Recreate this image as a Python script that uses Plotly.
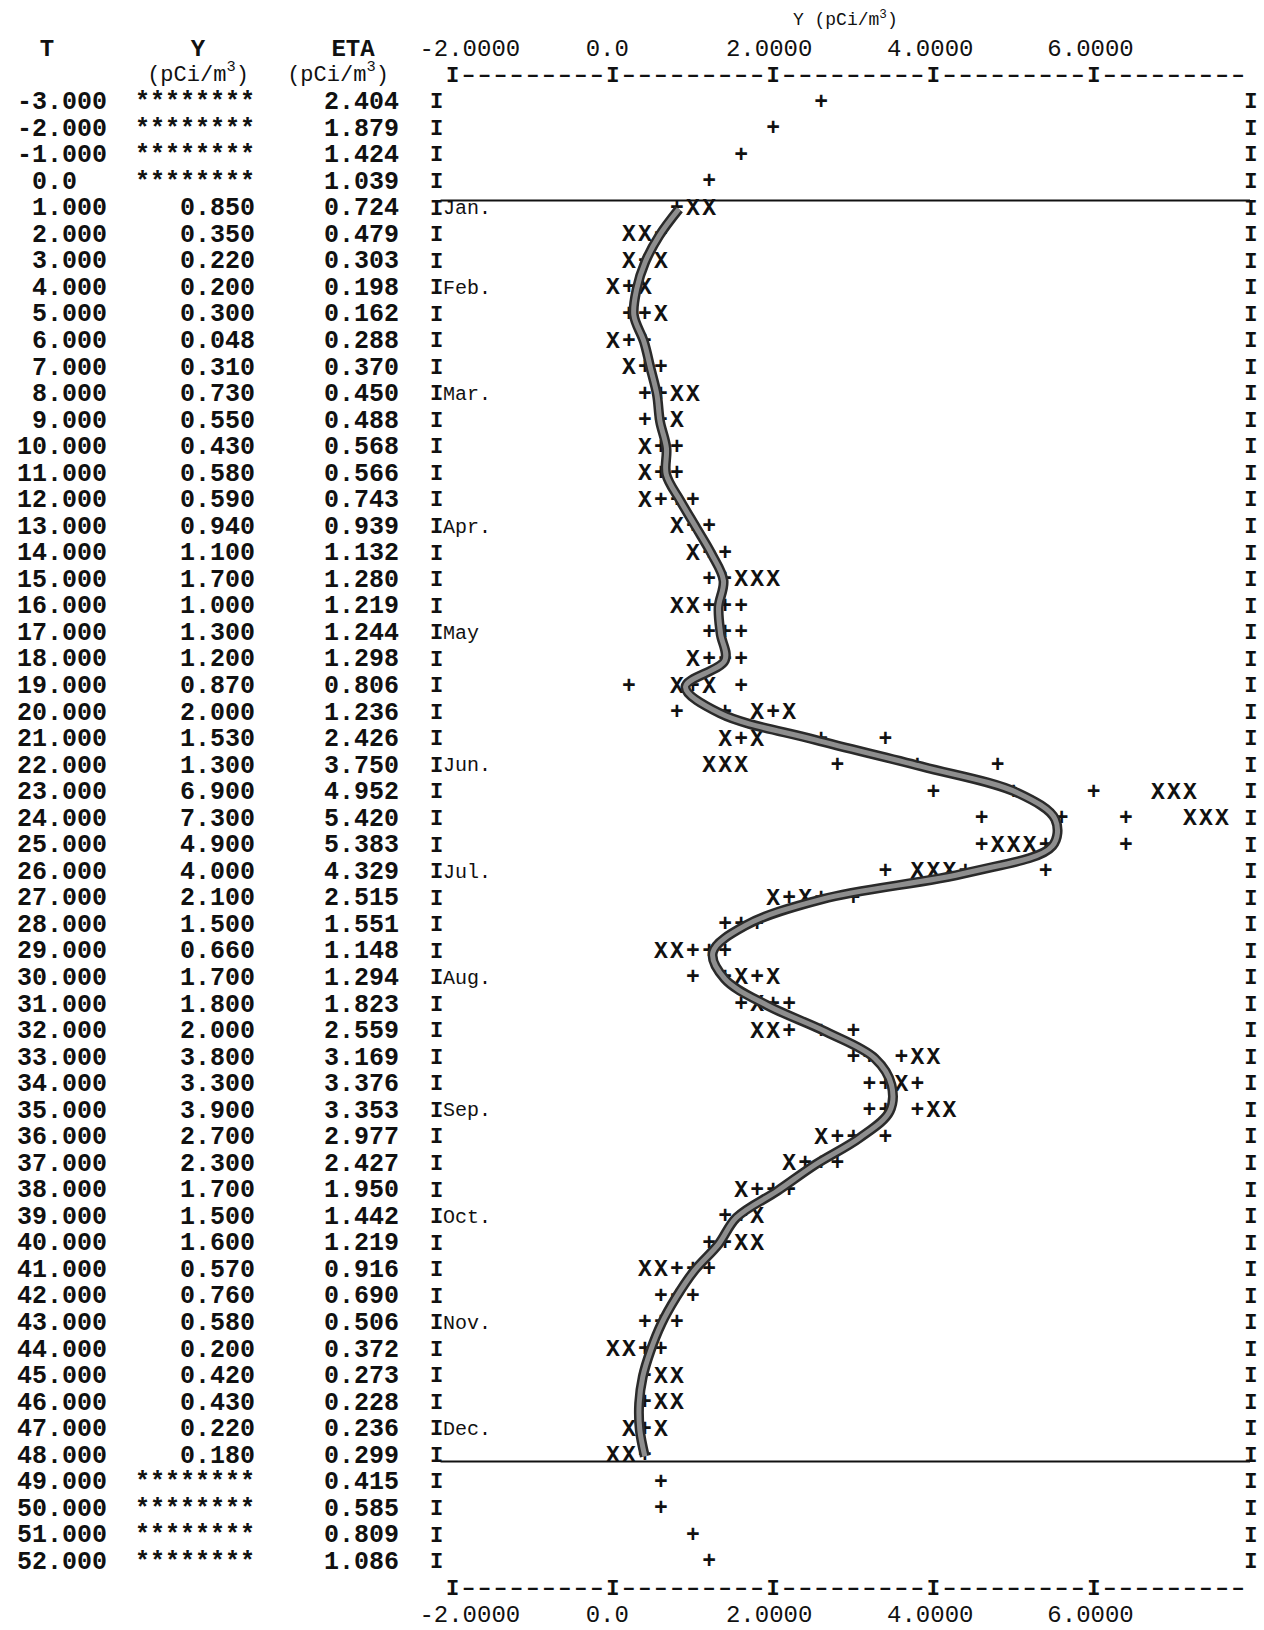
import math
import plotly.graph_objects as go

# ---------------------------------------------------------------- data
T = list(range(-3, 53))

Y = [None, None, None, None,
     0.850, 0.350, 0.220, 0.200, 0.300, 0.048, 0.310, 0.730, 0.550, 0.430,
     0.580, 0.590, 0.940, 1.100, 1.700, 1.000, 1.300, 1.200, 0.870, 2.000,
     1.530, 1.300, 6.900, 7.300, 4.900, 4.000, 2.100, 1.500, 0.660, 1.700,
     1.800, 2.000, 3.800, 3.300, 3.900, 2.700, 2.300, 1.700, 1.500, 1.600,
     0.570, 0.760, 0.580, 0.200, 0.420, 0.430, 0.220, 0.180,
     None, None, None, None]

ETA = [2.404, 1.879, 1.424, 1.039,
       0.724, 0.479, 0.303, 0.198, 0.162, 0.288, 0.370, 0.450, 0.488, 0.568,
       0.566, 0.743, 0.939, 1.132, 1.280, 1.219, 1.244, 1.298, 0.806, 1.236,
       2.426, 3.750, 4.952, 5.420, 5.383, 4.329, 2.515, 1.551, 1.148, 1.294,
       1.823, 2.559, 3.169, 3.376, 3.353, 2.977, 2.427, 1.950, 1.442, 1.219,
       0.916, 0.690, 0.506, 0.372, 0.273, 0.228, 0.236, 0.299,
       0.415, 0.585, 0.809, 1.086]

# lower / upper band marks ("+")
BAND_LO = [None, None, None, None,
           None, None, None, None, None, 0.1, None, 0.3, 0.3, None,
           None, 0.5, None, None, 1.1, 1.1, 1.1, 1.1, 0.1, 0.7,
           1.5, 2.7, 3.9, 4.5, 4.5, 3.3, 2.1, 1.3, 0.9, 0.9,
           1.5, 2.1, 2.9, 3.1, 3.1, 2.7, 2.3, 1.7, 1.3, 1.1,
           0.7, 0.5, 0.3, None, None, None, None, None,
           None, None, None, None]
BAND_HI = [None, None, None, None,
           None, None, None, None, 0.3, None, 0.5, None, None, 0.7,
           0.7, 0.9, 1.1, 1.3, None, 1.5, 1.5, 1.5, 1.5, 1.9,
           3.3, 4.7, 5.9, 6.3, 6.3, 5.3, 2.9, 1.7, 1.3, 1.7,
           2.1, 2.9, 3.5, 3.7, 3.7, 3.3, 2.7, 2.1, None, None,
           1.1, 0.9, 0.7, 0.5, None, None, None, None,
           None, None, None, None]

MONTHS = {1: "Jan.", 4: "Feb.", 8: "Mar.", 13: "Apr.", 17: "May", 22: "Jun.",
          26: "Jul.", 30: "Aug.", 35: "Sep.", 39: "Oct.", 43: "Nov.", 47: "Dec."}

TICK_VALUES = [-2, 0, 2, 4, 6]
TICK_TEXT = ["-2.0000", "0.0", "2.0000", "4.0000", "6.0000"]

# ---------------------------------------------------------------- printer grid
CELL = 0.2                       # one print column = 0.2 pCi/m3
LEFT_CELL, RIGHT_CELL = -12, 38  # axis-line columns
MONO = "Liberation Mono"


def cell_index(v):
    """Print column that a value falls into (columns cover (c, c+0.2])."""
    return math.ceil(round(v / CELL, 6)) - 1


def col_x(k):
    """Centre of print column k in data units."""
    return k * CELL + CELL / 2


x_chars, x_y, p_chars, p_y = [], [], [], []
for t, yv, e, lo, hi in zip(T, Y, ETA, BAND_LO, BAND_HI):
    row = {}
    if yv is not None:
        c = cell_index(yv)
        for k in (c - 1, c, c + 1):
            row[k] = "X"
    for v in (e, lo, hi):
        if v is not None:
            row[cell_index(v)] = "+"
    for k, ch in row.items():
        if ch == "X":
            x_chars.append(col_x(k)); x_y.append(t)
        else:
            p_chars.append(col_x(k)); p_y.append(t)

fig = go.Figure()

ink = "#111111"


def text_trace(x, y, text, size, pos="middle center", xaxis="x", weight="bold",
               family=MONO, color=ink):
    fig.add_trace(go.Scatter(
        x=x, y=y, text=text, mode="text", textposition=pos, xaxis=xaxis,
        textfont=dict(family=family, size=size, color=color, weight=weight),
        hoverinfo="skip", showlegend=False, cliponaxis=False))


# ---------------------------------------------------------------- table
t_text = [("0.0" + "\u00a0\u00a0") if t == 0 else f"{t:.3f}" for t in T]
y_text = ["********" if v is None else f"{v:.3f}" for v in Y]
e_text = [f"{v:.3f}" for v in ETA]
text_trace([107] * len(T), T, t_text, 25, "middle left", "x2")
text_trace([255] * len(T), T, y_text, 25, "middle left", "x2")
text_trace([399] * len(T), T, e_text, 25, "middle left", "x2")

text_trace([47, 198, 353], [-5, -5, -5], ["T", "Y", "ETA"], 24, xaxis="x2")
text_trace([198, 338], [-4.05, -4.05],
           ["(pCi/m<sup>3</sup>)", "(pCi/m<sup>3</sup>)"], 22, xaxis="x2",
           weight="normal")

# ---------------------------------------------------------------- frame
rows = T
text_trace([col_x(-12)] * len(rows), rows, ["I"] * len(rows), 22)
text_trace([7.86] * len(rows), rows, ["I"] * len(rows), 22)

mt = list(MONTHS.keys())
text_trace([-2.22] * len(mt), mt, [MONTHS[m] for m in mt], 20, "middle right",
           weight="normal")

tick_cells = {cell_index(v) for v in TICK_VALUES}
ax_x = [col_x(k) for k in range(LEFT_CELL + 1, RIGHT_CELL + 1)]
ax_c = ["I" if k in tick_cells else "\u2013" for k in range(LEFT_CELL + 1, RIGHT_CELL + 1)]
for row_y in (-4, 53):
    text_trace(ax_x, [row_y] * len(ax_x), ax_c, 22)

label_nudge = [0.115, -0.17, -0.15, -0.14, -0.14]
lab_x = [v + d for v, d in zip(TICK_VALUES, label_nudge)]
text_trace(lab_x, [-5] * 5, TICK_TEXT, 24, weight="normal")
text_trace(lab_x, [54] * 5, TICK_TEXT, 24, weight="normal")
text_trace([2.8], [-6.1], ["Y (pCi/m<sup>3</sup>)"], 18, weight="normal")

# observation period boundaries
obs_t = [t for t, v in zip(T, Y) if v is not None]
for yy in (obs_t[0] - 0.32, obs_t[-1] + 0.19):
    fig.add_shape(type="line", xref="x", yref="y", x0=-2.25, x1=7.85,
                  y0=yy, y1=yy, line=dict(color=ink, width=2))

# ---------------------------------------------------------------- marks
text_trace(x_chars, x_y, ["X"] * len(x_chars), 23)
text_trace(p_chars, p_y, ["+"] * len(p_chars), 23)

# smoothed ETA curve over the observation period
curve_t = [t for t, v in zip(T, Y) if v is not None]
curve_e = [e for e, v in zip(ETA, Y) if v is not None]
fig.add_trace(go.Scatter(x=curve_e, y=curve_t, mode="lines",
                         line=dict(color="#2a2a2a", width=10, shape="spline", smoothing=1.0),
                         hoverinfo="skip", showlegend=False))
fig.add_trace(go.Scatter(x=curve_e, y=curve_t, mode="lines",
                         line=dict(color="#8e8e8e", width=5, shape="spline", smoothing=1.0),
                         hoverinfo="skip", showlegend=False))

# ---------------------------------------------------------------- layout
fig.update_layout(
    width=1264, height=1630,
    margin=dict(l=0, r=0, t=0, b=0),
    paper_bgcolor="white", plot_bgcolor="white",
    xaxis=dict(range=[-7.747, 8.024], visible=False, domain=[0, 1], fixedrange=True),
    xaxis2=dict(range=[0, 1264], visible=False, overlaying="x", fixedrange=True),
    yaxis=dict(range=[54.54, -6.877], visible=False, fixedrange=True),
    showlegend=False,
)

fig.write_html("out.html")
